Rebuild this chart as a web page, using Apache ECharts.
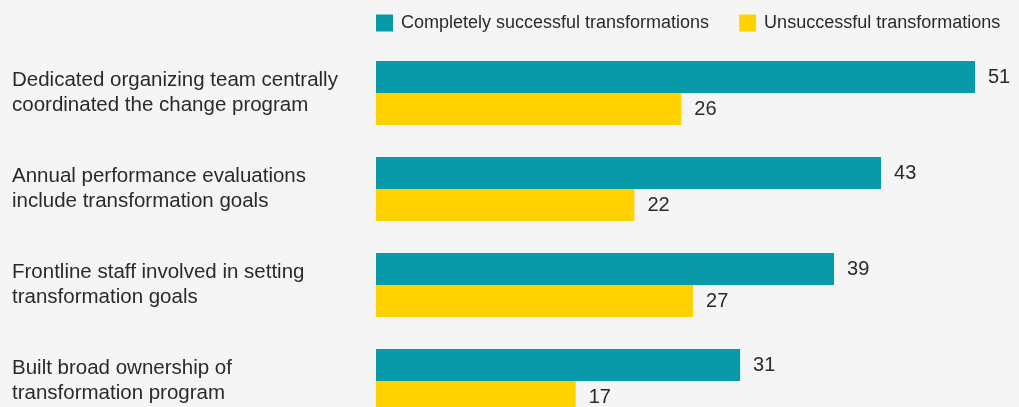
<!DOCTYPE html>
<html><head><meta charset="utf-8">
<script src="https://cdn.jsdelivr.net/npm/echarts@6/dist/echarts.min.js"></script>
<style>html,body{margin:0;padding:0;background:#f5f5f5;}#c{width:1019px;height:407px;}</style>
</head><body><div id="c"></div>
<script>
const categories = [
  "Dedicated organizing team centrally\ncoordinated the change program",
  "Annual performance evaluations\ninclude transformation goals",
  "Frontline staff involved in setting\ntransformation goals",
  "Built broad ownership of\ntransformation program"
];
const seriesNames = ["Completely successful transformations", "Unsuccessful transformations"];
const successful = [51, 43, 39, 31];
const unsuccessful = [26, 22, 27, 17];
const colors = ["#089ba7", "#ffd200"];
const FONT = "Liberation Sans";
const TEXT = "#2a2a2a";

const chart = echarts.init(document.getElementById('c'));
chart.setOption({
  backgroundColor: '#f5f5f5',
  animation: false,
  textStyle: {fontFamily: FONT},
  legend: {
    left: 376, top: 14, padding: 0, itemWidth: 17, itemHeight: 17, itemGap: 30,
    icon: 'rect',
    textStyle: {fontFamily: FONT, fontSize: 18, color: TEXT, padding: [0,0,0,3]},
    data: seriesNames
  },
  grid: {left: 376, width: 599, top: 45, height: 384, containLabel: false, outerBoundsMode: 'none'},
  xAxis: {type: 'value', min: 0, max: 51, show: false},
  yAxis: {
    type: 'category', inverse: true, data: categories,
    axisLine: {show: false}, axisTick: {show: false}, splitLine: {show: false},
    axisLabel: {align: 'left', margin: 364, fontFamily: FONT, fontSize: 20.5, color: TEXT, lineHeight: 25, padding: [0,0,3,0]}
  },
  series: [
    {name: seriesNames[0], type: 'bar', data: successful, barWidth: 32, barGap: '0%', barCategoryGap: '33%',
     itemStyle: {color: colors[0]},
     label: {show: true, position: 'right', distance: 13, fontFamily: FONT, fontSize: 20, color: TEXT}},
    {name: seriesNames[1], type: 'bar', data: unsuccessful, barWidth: 32, barGap: '0%',
     itemStyle: {color: colors[1]},
     label: {show: true, position: 'right', distance: 13, fontFamily: FONT, fontSize: 20, color: TEXT}}
  ]
});
</script></body></html>
